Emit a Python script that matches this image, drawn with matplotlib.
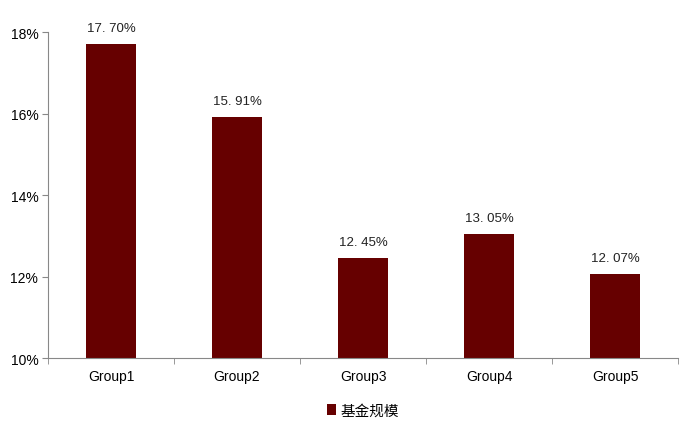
import matplotlib
matplotlib.use('Agg')
import matplotlib.pyplot as plt
import numpy as np

plt.rcParams['font.family'] = ['Liberation Sans', 'Noto Sans CJK SC', 'DejaVu Sans']

groups = ['Group1', 'Group2', 'Group3', 'Group4', 'Group5']
values = [17.70, 15.91, 12.45, 13.05, 12.07]
labels = ['17. 70%', '15. 91%', '12. 45%', '13. 05%', '12. 07%']
series_name = '基金规模'

fig = plt.figure(figsize=(7, 4.27), dpi=100)
ax = fig.add_axes([0.0686, 0.159, 0.9, 0.7637])

x = np.arange(len(groups))
bars = ax.bar(x, [v - 10 for v in values], bottom=10, width=0.4, color='#660000', label=series_name)
for xi, v, t in zip(x, values, labels):
    ax.text(xi, v + 0.25, t, ha='center', va='bottom', fontsize=9.5, color='#222222')

ax.set_xlim(-0.5, len(groups) - 0.5)
ax.set_ylim(10, 18)
ax.set_yticks([10, 12, 14, 16, 18])
ax.set_yticklabels(['10%', '12%', '14%', '16%', '18%'], fontsize=10)
ax.set_xticks(x)
ax.set_xticklabels(groups, fontsize=10)
ax.set_xticks(np.arange(-0.5, len(groups)), minor=True)
ax.tick_params(axis='x', which='major', length=0, pad=8)
ax.tick_params(axis='x', which='minor', length=4, color='#888888')
ax.tick_params(axis='y', length=4, color='#888888', pad=3)

for s in ['top', 'right']:
    ax.spines[s].set_visible(False)
for s in ['left', 'bottom']:
    ax.spines[s].set_color('#888888')

ax.legend(loc='upper center', bbox_to_anchor=(0.5, -0.1), frameon=False, fontsize=10.5,
          handlelength=0.6, handleheight=0.8, handletextpad=0.3)

plt.savefig('out.png', dpi=100)
